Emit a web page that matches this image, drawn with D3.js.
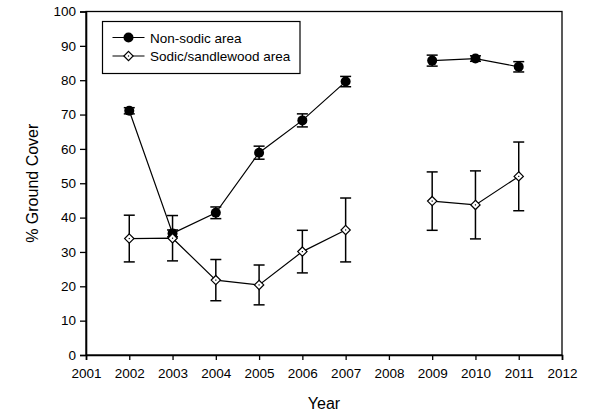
<!DOCTYPE html>
<html>
<head>
<meta charset="utf-8">
<script src="https://cdnjs.cloudflare.com/ajax/libs/d3/7.8.5/d3.min.js"></script>
<style>
  body { margin: 0; background: #fff; }
  text { font-family: "Liberation Sans", Arial, sans-serif; fill: #000; }
</style>
</head>
<body>
<div id="main"></div>
<script>
// data (2008 = no sampling)
var years = [2002, 2003, 2004, 2005, 2006, 2007, 2008, 2009, 2010, 2011];
var nonSodic = [71.1, 35.4, 41.4, 58.9, 68.3, 79.6, null, 85.7, 86.3, 83.9];
var nonSodicErr = [0.9, 1.0, 1.7, 1.9, 1.9, 1.5, null, 1.6, 0.8, 1.5];
var sodic = [33.9, 34.0, 21.8, 20.4, 30.1, 36.4, null, 44.8, 43.7, 52.0];
var sodicErr = [6.8, 6.6, 6.0, 5.8, 6.2, 9.3, null, 8.5, 9.9, 10.0];
var xTicks = d3.range(2001, 2013);
var yTicks = d3.range(0, 101, 10);
var seriesNames = ["Non-sodic area", "Sodic/sandlewood area"];

var ctx = { w: 593, h: 414, left: 86, right: 562, top: 11.5, bottom: 355 };

var svg = d3.select("#main").append("svg")
    .attr("width", ctx.w).attr("height", ctx.h);

var x = d3.scaleLinear().domain([2001, 2012]).range([ctx.left, ctx.right]);
var y = d3.scaleLinear().domain([0, 100]).range([ctx.bottom, ctx.top]);

// frame
svg.append("rect")
    .attr("x", ctx.left).attr("y", ctx.top)
    .attr("width", ctx.right - ctx.left).attr("height", ctx.bottom - ctx.top)
    .attr("fill", "none").attr("stroke", "#000").attr("stroke-width", 1.3);

// axes
var xAxis = svg.append("g")
    .attr("transform", `translate(0,${ctx.bottom})`)
    .call(d3.axisBottom(x).tickValues(xTicks).tickFormat(d3.format("d")).tickSize(5).tickPadding(8));
var yAxis = svg.append("g")
    .attr("transform", `translate(${ctx.left},0)`)
    .call(d3.axisLeft(y).tickValues(yTicks).tickSize(6).tickPadding(4));
[xAxis, yAxis].forEach(function(a){
  a.select(".domain").attr("stroke-width", 1.6);
  a.selectAll(".tick line").attr("stroke-width", 1.3);
  a.selectAll("text").style("font-size", "13.5px").attr("fill", "#111");
});

// axis labels
svg.append("text")
    .attr("x", (ctx.left + ctx.right) / 2).attr("y", 409)
    .attr("text-anchor", "middle").style("font-size", "16px")
    .text("Year");
svg.append("text")
    .attr("transform", `translate(38,${(ctx.top + ctx.bottom) / 2}) rotate(-90)`)
    .attr("text-anchor", "middle").style("font-size", "16px")
    .text("% Ground Cover");

var line = d3.line()
    .defined(function(d){ return d.v !== null; })
    .x(function(d){ return x(d.year); })
    .y(function(d){ return y(d.v); });

function drawSeries(vals, errs, kind){
  var pts = years.map(function(yr, i){ return {year: yr, v: vals[i], e: errs[i]}; });
  var g = svg.append("g");
  g.append("path").datum(pts)
    .attr("d", line).attr("fill", "none").attr("stroke", "#000").attr("stroke-width", 1.2);
  var valid = pts.filter(function(d){ return d.v !== null; });
  var eb = g.selectAll(".eb").data(valid).enter().append("g")
    .attr("stroke", "#000").attr("stroke-width", 1.5);
  eb.append("line")
    .attr("x1", function(d){ return x(d.year); }).attr("x2", function(d){ return x(d.year); })
    .attr("y1", function(d){ return y(d.v - d.e); }).attr("y2", function(d){ return y(d.v + d.e); });
  [-1, 1].forEach(function(s){
    eb.append("line")
      .attr("x1", function(d){ return x(d.year) - 5.5; }).attr("x2", function(d){ return x(d.year) + 5.5; })
      .attr("y1", function(d){ return y(d.v + s * d.e); }).attr("y2", function(d){ return y(d.v + s * d.e); });
  });
  drawMarkers(g, valid.map(function(d){ return [x(d.year), y(d.v)]; }), kind);
}

function drawMarkers(g, xy, kind){
  if (kind === "circle"){
    g.selectAll(".m").data(xy).enter().append("circle")
      .attr("cx", function(d){ return d[0]; }).attr("cy", function(d){ return d[1]; })
      .attr("r", 5).attr("fill", "#000");
  } else {
    var diamond = d3.symbol().type(d3.symbolDiamond2).size(55);
    g.selectAll(".m").data(xy).enter().append("path")
      .attr("d", diamond)
      .attr("transform", function(d){ return `translate(${d[0]},${d[1]})`; })
      .attr("fill", "#fff").attr("stroke", "#000").attr("stroke-width", 1.2);
    g.selectAll(".dot").data(xy).enter().append("rect")
      .attr("x", function(d){ return d[0] - 0.6; }).attr("y", function(d){ return d[1] - 0.6; })
      .attr("width", 1.2).attr("height", 1.2).attr("fill", "#000");
  }
}

drawSeries(nonSodic, nonSodicErr, "circle");
drawSeries(sodic, sodicErr, "diamond");

// legend
var lg = svg.append("g");
lg.append("rect").attr("x", 102.5).attr("y", 21.5).attr("width", 197.5).attr("height", 52)
  .attr("fill", "#fff").attr("stroke", "#000").attr("stroke-width", 1.2);
seriesNames.forEach(function(name, i){
  var ly = 37.5 + i * 18.5;
  var row = lg.append("g");
  row.append("line").attr("x1", 112.5).attr("x2", 144.5).attr("y1", ly).attr("y2", ly)
    .attr("stroke", "#000").attr("stroke-width", 1.2);
  drawMarkers(row, [[128.5, ly]], i === 0 ? "circle" : "diamond");
  row.append("text").attr("x", 150).attr("y", ly + 5).style("font-size", "13.5px").text(name);
});
</script>
</body>
</html>
